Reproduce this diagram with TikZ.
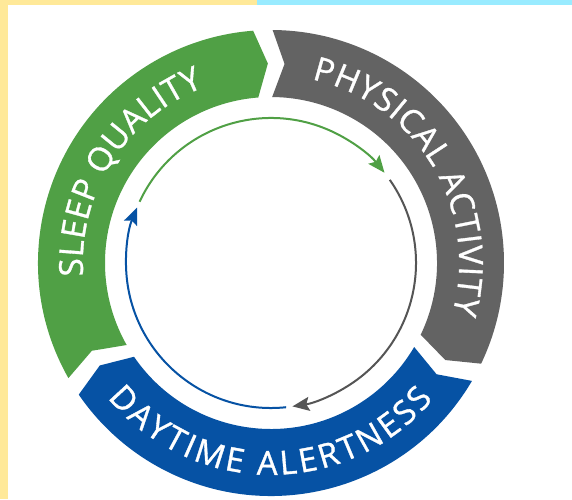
\documentclass[tikz,border=0pt]{standalone}
\usepackage{fontspec}
\newfontfamily\ringfont[FakeBold=1]{Open Sans}
\usetikzlibrary{decorations.text,arrows.meta}

\definecolor{sleepgreen}{RGB}{80,160,69}
\definecolor{activegray}{RGB}{99,99,99}
\definecolor{alertblue}{RGB}{6,82,164}
\definecolor{cyclegray}{RGB}{85,85,85}
\definecolor{haze}{RGB}{224,224,224}
\definecolor{edgeyellow}{RGB}{255,233,153}
\definecolor{edgecyan}{RGB}{153,235,255}

% soft grey bed under the ring (1bp of shading = 5pt on a 250pt circle)
\pgfdeclareradialshading{ringbed}{\pgfpoint{0bp}{0bp}}{%
  color(0bp)=(white); color(29.6bp)=(white); color(32.6bp)=(haze);
  color(47.2bp)=(haze); color(49.6bp)=(white); color(50bp)=(white)}

\newcommand\ringtext{\ringfont\fontsize{33}{40}\selectfont}

% one band of the ring: notched at #1, pointed at #2 (clockwise)
\newcommand\ringband[3]{%
  \fill[#3] (#1:233) arc[start angle=#1, end angle=#2, radius=233]
    -- (#2-3.5:199.5) -- (#2:166)
    arc[start angle=#2, end angle=#1, radius=166]
    -- (#1-3.5:199.5) -- cycle;}

\tikzset{
  cyclearrow/.style={line width=2pt, -{Stealth[length=17pt,width=14pt,inset=3pt]}},
  bandlabel/.style={decorate, decoration={text along path, text color=white,
      text align={fit to path}, text={|\ringtext|#1}}}
}

\begin{document}
\begin{tikzpicture}[x=1pt,y=1pt]
  \useasboundingbox (-271,-236) rectangle (301,263);
  \fill[white] (-271,-236) rectangle (301,263);

  % coloured page edges
  \fill[edgeyellow] (-271,258) rectangle (-14,263);
  \fill[edgecyan] (-14,258) rectangle (301,263);
  \fill[edgeyellow] (-271,-236) rectangle (-263,263);

  % grey bed and the three bands
  \shade[shading=ringbed] (0,0) circle[radius=250];
  \ringband{209.6}{94.4}{sleepgreen}
  \ringband{89.6}{-25.6}{activegray}
  \ringband{-30.4}{-145.6}{alertblue}

  % band labels
  \path[bandlabel={SLEEP QUALITY}]
    (184:188.2) arc[start angle=184, end angle=111, radius=188.2];
  \path[bandlabel={PHYSICAL ACTIVITY}]
    (77.5:188.2) arc[start angle=77.5, end angle=-15.5, radius=188.2];
  \path[bandlabel={DAYTIME ALERTNESS}]
    (219.5:211.8) arc[start angle=219.5, end angle=320, radius=211.8];

  % inner cycle of arrows
  \draw[cyclearrow, sleepgreen] (155:145) arc[start angle=155, end angle=38.5, radius=145];
  \draw[cyclearrow, cyclegray] (35:145) arc[start angle=35, end angle=-81.5, radius=145];
  \draw[cyclearrow, alertblue] (-84:145) arc[start angle=-84, end angle=-202.5, radius=145];
\end{tikzpicture}
\end{document}
